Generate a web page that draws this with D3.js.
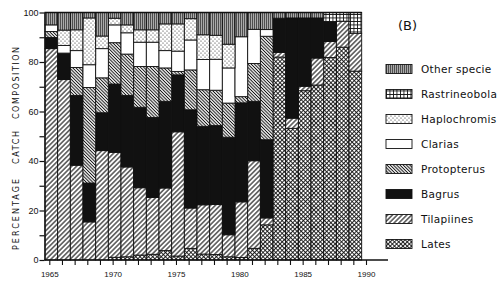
<!DOCTYPE html>
<html>
<head>
<meta charset="utf-8">
<script src="https://cdn.jsdelivr.net/npm/d3@7"></script>
<style>
  body { margin: 0; background: #fff; }
  svg { display: block; font-family: "DejaVu Sans", sans-serif; }
</style>
</head>
<body>
<svg id="chart" width="500" height="287"></svg>
<script>
// Catch composition (%) by year, stacked bottom -> top
const years = [1965, 1966, 1967, 1968, 1969, 1970, 1971, 1972, 1973, 1974, 1975, 1976, 1977,
               1978, 1979, 1980, 1981, 1982, 1983, 1984, 1985, 1986, 1987, 1988, 1989];

const lates         = [0, 0, 0, 0, 0, 1.1, 1.3, 2.0, 2.3, 3.8, 1.6, 4.7, 2.4, 2.2, 1.3, 1.0, 4.7, 14.2, 82.0, 53.2, 68.4, 70.7, 81.8, 86.0, 76.3];
const tilapiines    = [85.4, 72.9, 38.3, 15.4, 44.2, 42.4, 36.3, 27.2, 23.0, 25.3, 50.2, 16.3, 19.9, 20.2, 8.9, 22.5, 35.4, 2.8, 1.9, 4.1, 1.8, 10.9, 6.5, 10.5, 15.3];
const bagrus        = [4.5, 10.7, 28.2, 15.7, 15.3, 27.6, 28.9, 32.5, 32.3, 35.0, 23.0, 39.7, 31.7, 31.9, 39.4, 40.0, 24.0, 31.6, 13.8, 40.5, 27.6, 16.2, 7.9, 0, 0];
const protopterus   = [2.4, 0, 11.3, 38.6, 14.1, 16.7, 16.7, 16.5, 20.6, 13.5, 1.4, 16.1, 14.8, 14.3, 13.8, 2.5, 15.3, 41.8, 0, 0, 0, 0, 0, 0, 0];
const clarias       = [2.7, 3.1, 6.8, 9.2, 11.8, 7.2, 8.6, 9.8, 9.8, 7.0, 8.2, 12.1, 12.2, 12.5, 14.2, 24.2, 13.8, 2.7, 0, 0, 0, 0, 0, 0, 0];
const haplochromis  = [0, 6.2, 8.4, 18.9, 5.1, 2.7, 3.2, 5.0, 5.0, 10.8, 11.0, 8.6, 10.0, 9.7, 9.6, 0, 0, 0, 0, 0, 0, 0, 0, 0, 0];
const rastrineobola = [0, 0, 0, 0, 0, 0, 0, 0, 0, 0, 0, 0, 0, 0, 0, 0, 0, 0, 0, 0, 0, 0, 3.8, 3.5, 8.4];
const other         = [5.0, 7.1, 7.0, 2.2, 9.5, 2.3, 5.0, 7.0, 7.0, 4.6, 4.6, 2.5, 9.0, 9.2, 12.8, 9.8, 6.8, 6.9, 2.3, 2.2, 2.2, 2.2, 0, 0, 0];

const keys = ['Lates', 'Tilapiines', 'Bagrus', 'Protopterus', 'Clarias', 'Haplochromis', 'Rastrineobola', 'Other'];
const series = [lates, tilapiines, bagrus, protopterus, clarias, haplochromis, rastrineobola, other];
// legend reads top -> bottom
const legendKeys   = ['Other', 'Rastrineobola', 'Haplochromis', 'Clarias', 'Protopterus', 'Bagrus', 'Tilapiines', 'Lates'];
const legendLabels = ['Other specie', 'Rastrineobola', 'Haplochromis', 'Clarias', 'Protopterus', 'Bagrus', 'Tilapiines', 'Lates'];

const yTicks = [0, 10, 20, 30, 40, 50, 60, 70, 80, 90, 100];
const xTicks = [1965, 1966, 1967, 1968, 1969, 1970, 1971, 1972, 1973, 1974, 1975, 1976, 1977,
                1978, 1979, 1980, 1981, 1982, 1983, 1984, 1985, 1986, 1987, 1988, 1989, 1990];

const table = years.map((yr, i) => {
  const row = { year: yr };
  keys.forEach((k, j) => row[k] = series[j][i]);
  return row;
});

const svg = d3.select('#chart');

// hatch patterns
const defs = svg.append('defs');
function hatch(id, size, angle, lineW, cross) {
  const p = defs.append('pattern')
    .attr('id', id)
    .attr('patternUnits', 'userSpaceOnUse')
    .attr('width', size).attr('height', size)
    .attr('patternTransform', `rotate(${angle})`);
  p.append('rect').attr('width', size).attr('height', size).attr('fill', '#fff');
  p.append('line').attr('x1', size / 2).attr('x2', size / 2).attr('y1', 0).attr('y2', size)
    .attr('stroke', '#111').attr('stroke-width', lineW);
  if (cross) {
    p.append('line').attr('y1', size / 2).attr('y2', size / 2).attr('x1', 0).attr('x2', size)
      .attr('stroke', '#111').attr('stroke-width', lineW);
  }
}
hatch('p-tilapia', 3.4, 45, 1.1, false);
hatch('p-proto', 2.3, -45, 1.0, false);
hatch('p-lates', 3.0, 45, 0.9, true);

const pOther = defs.append('pattern').attr('id', 'p-other')
  .attr('patternUnits', 'userSpaceOnUse').attr('width', 2).attr('height', 4);
pOther.append('rect').attr('width', 2).attr('height', 4).attr('fill', '#aaa');
pOther.append('line').attr('x1', 0.5).attr('x2', 0.5).attr('y1', 0).attr('y2', 4)
  .attr('stroke', '#444').attr('stroke-width', 0.9);

// Rastrineobola: white squares in a black grid
const pRas = defs.append('pattern').attr('id', 'p-ras')
  .attr('patternUnits', 'userSpaceOnUse').attr('width', 3.5).attr('height', 3.5);
pRas.append('rect').attr('width', 3.5).attr('height', 3.5).attr('fill', '#fff');
pRas.append('path').attr('d', 'M0,0.4H3.5M0.4,0V3.5')
  .attr('stroke', '#111').attr('stroke-width', 0.9);

const pHap = defs.append('pattern').attr('id', 'p-hap')
  .attr('patternUnits', 'userSpaceOnUse').attr('width', 4).attr('height', 4);
pHap.append('rect').attr('width', 4).attr('height', 4).attr('fill', '#fff');
pHap.append('circle').attr('cx', 1).attr('cy', 1).attr('r', 0.6).attr('fill', '#222');
pHap.append('circle').attr('cx', 3).attr('cy', 3).attr('r', 0.6).attr('fill', '#222');

const fills = {
  Lates: 'url(#p-lates)',
  Tilapiines: 'url(#p-tilapia)',
  Bagrus: '#111',
  Protopterus: 'url(#p-proto)',
  Clarias: '#fff',
  Haplochromis: 'url(#p-hap)',
  Rastrineobola: 'url(#p-ras)',
  Other: 'url(#p-other)'
};

// scales
const x = d3.scaleLinear().domain([1965, 1990]).range([49.3, 366]);
const y = d3.scaleLinear().domain([0, 1]).range([260, 12.5]);
const yPct = d3.scaleLinear().domain([0, 100]).range([260, 12.5]);

const stacked = d3.stack().keys(keys).offset(d3.stackOffsetExpand)(table);

// bars (each bar sits a little right of its year tick)
const barL = d => x(d.data.year - 0.34);
const barR = d => x(d.data.year + 0.66);

svg.append('g').selectAll('g')
  .data(stacked)
  .join('g')
    .attr('fill', s => fills[s.key])
  .selectAll('rect')
  .data(s => s.filter(d => d[1] - d[0] > 0))
  .join('rect')
    .attr('x', barL)
    .attr('width', d => barR(d) - barL(d))
    .attr('y', d => y(d[1]))
    .attr('height', d => y(d[0]) - y(d[1]))
    .attr('stroke', '#111')
    .attr('stroke-width', 0.9);

// frame on top
svg.append('line')
  .attr('x1', x(1964.62)).attr('x2', x(1989.66))
  .attr('y1', yPct(100)).attr('y2', yPct(100))
  .attr('stroke', '#111').attr('stroke-width', 1.6);

// y axis
const yAxis = svg.append('g')
  .attr('transform', `translate(${x(1964.62)},0)`)
  .call(d3.axisLeft(yPct).tickValues(yTicks).tickSize(5).tickSizeOuter(0)
    .tickFormat(d => d % 20 === 0 ? d : ''));
yAxis.select('.domain').attr('stroke', '#111').attr('stroke-width', 1.4);
yAxis.selectAll('.tick line').attr('stroke', '#111').attr('stroke-width', 1.2);
yAxis.selectAll('.tick text').attr('font-size', 9).attr('fill', '#111').attr('x', -6);

// x axis
const xAxis = svg.append('g')
  .attr('transform', `translate(0,${yPct(0)})`)
  .call(d3.axisBottom(x).tickValues(xTicks).tickSize(5).tickSizeOuter(0)
    .tickFormat(d => d % 5 === 0 ? d : ''));
xAxis.select('.domain').remove();
xAxis.append('line')
  .attr('x1', x(1964.62)).attr('x2', 388)
  .attr('stroke', '#111').attr('stroke-width', 1.4);
xAxis.selectAll('.tick line').attr('stroke', '#111').attr('stroke-width', 1.1);
xAxis.selectAll('.tick text').attr('font-size', 8).attr('fill', '#111').attr('y', 11);

// y title, spaced out like the original (bottom / top screen y of each word)
const titleParts = [
  { text: 'PERCENTAGE', bottom: 250, top: 179 },
  { text: 'CATCH', bottom: 164, top: 131 },
  { text: 'COMPOSITION', bottom: 119, top: 47 }
];
titleParts.forEach(t => {
  svg.append('text')
    .attr('transform', 'rotate(-90)')
    .attr('x', -t.bottom)
    .attr('y', 19)
    .attr('font-size', 8)
    .attr('textLength', t.bottom - t.top)
    .attr('lengthAdjust', 'spacing')
    .attr('fill', '#111')
    .text(t.text);
});

// panel label
svg.append('text')
  .attr('x', 398).attr('y', 30)
  .attr('font-size', 13)
  .attr('fill', '#111')
  .text('(B)');

// legend
const legend = svg.append('g').selectAll('g')
  .data(legendKeys)
  .join('g')
    .attr('transform', (k, i) => `translate(386,${69 + i * 25})`);
legend.append('rect')
  .attr('x', 0).attr('y', -4.5)
  .attr('width', 26).attr('height', 9)
  .attr('fill', k => fills[k])
  .attr('stroke', '#111').attr('stroke-width', 0.9);
legend.append('text')
  .attr('x', 35).attr('y', 0)
  .attr('dy', '0.35em')
  .attr('font-size', 10.5)
  .attr('letter-spacing', 0.3)
  .attr('fill', '#111')
  .text((k, i) => legendLabels[i]);
</script>
</body>
</html>
